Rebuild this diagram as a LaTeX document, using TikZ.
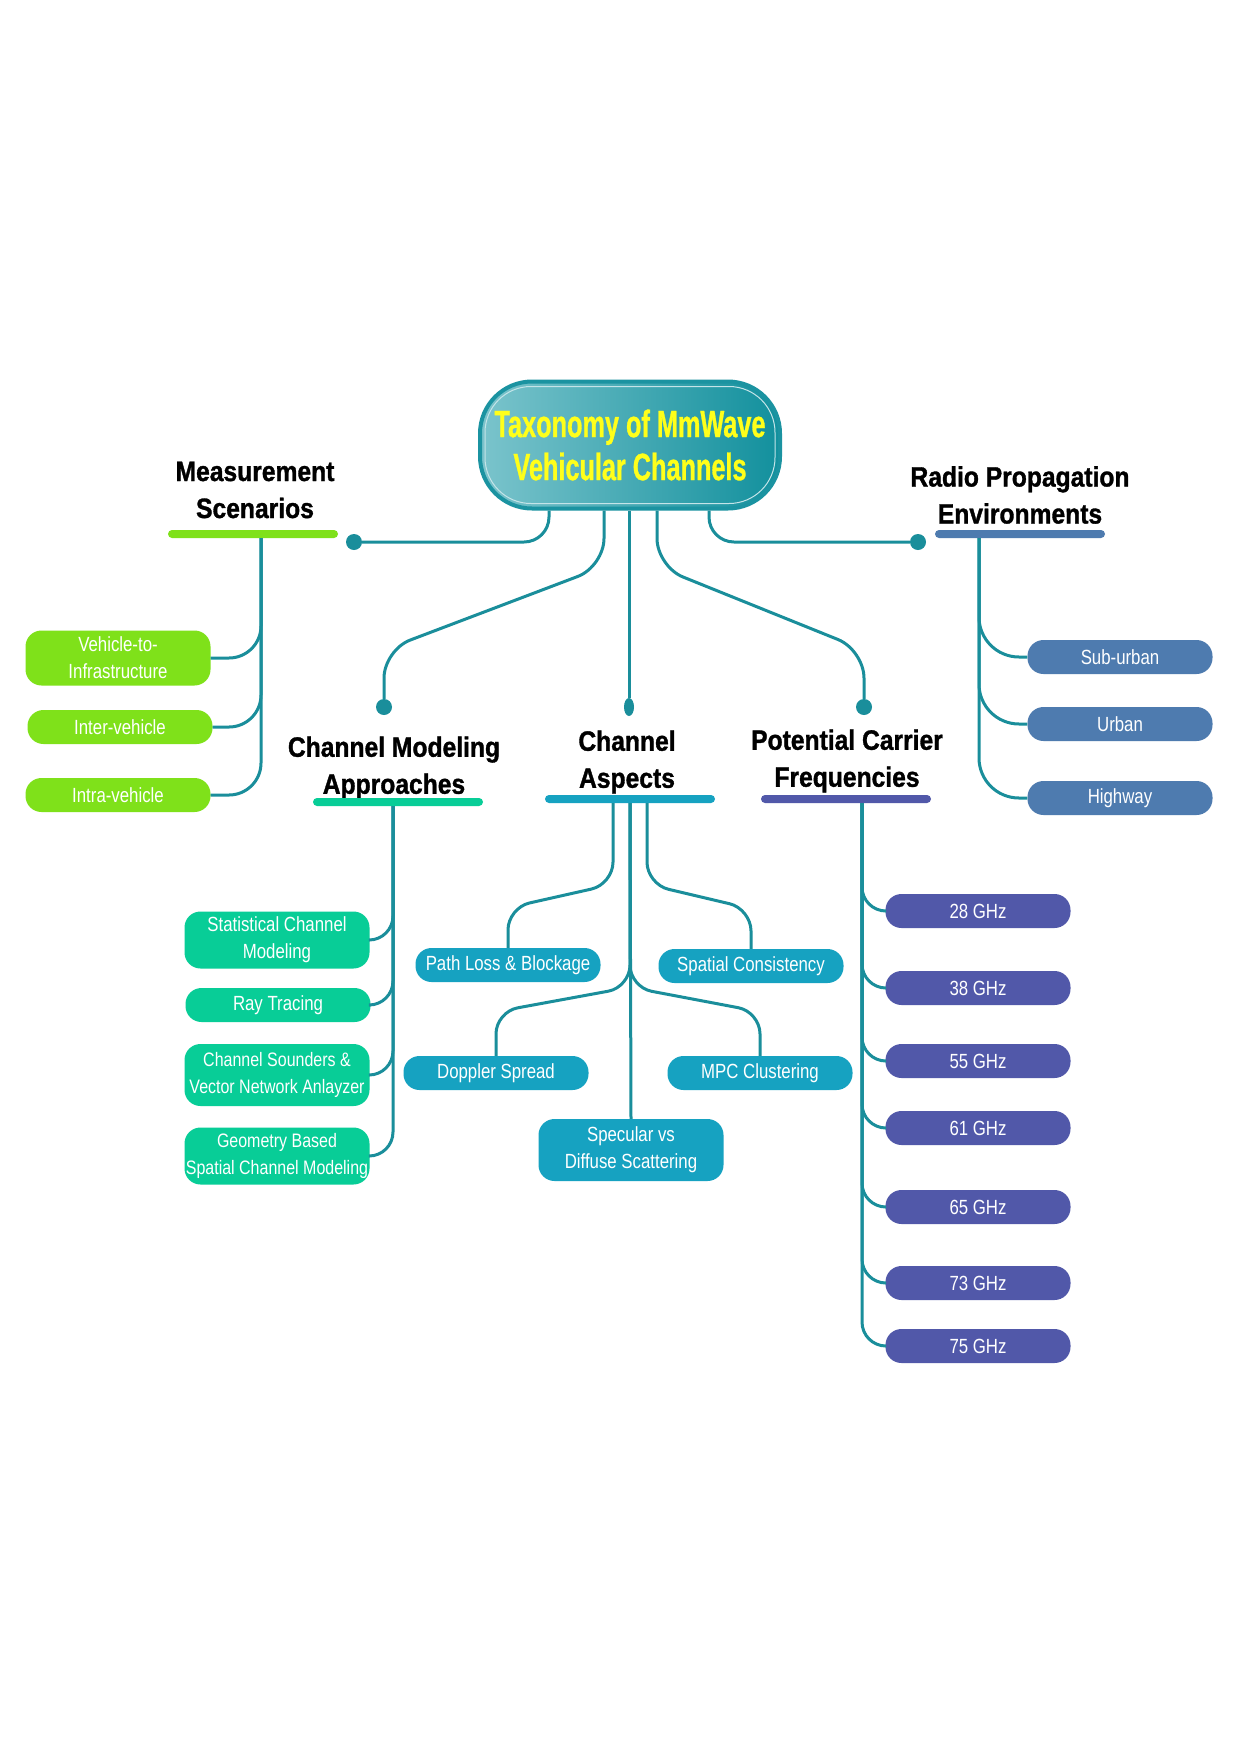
\documentclass[tikz,border=0pt]{standalone}
\usepackage{fontspec}
\setmainfont{Liberation Sans}
\newfontfamily\leaffont[FakeStretch=0.82]{Liberation Sans}
\newfontfamily\headfont[FakeStretch=0.88,BoldFeatures={FakeBold=1.2}]{Liberation Sans}
\newfontfamily\titlefont[FakeStretch=0.665,BoldFeatures={FakeBold=0.8}]{Liberation Sans}
\usepackage{xcolor}
\usepackage{tikz}
\usetikzlibrary{positioning,calc,shapes.geometric}

\definecolor{linkc}{HTML}{1A8E9B}
\definecolor{msc}{HTML}{7FE11A}
\definecolor{rpe}{HTML}{4E7BAF}
\definecolor{cma}{HTML}{08CD97}
\definecolor{cas}{HTML}{16A2C1}
\definecolor{pcf}{HTML}{5158A9}
\definecolor{ttllight}{HTML}{7BC4CC}
\definecolor{ttldark}{HTML}{12909D}
\definecolor{ttledge}{HTML}{1B93A1}
\definecolor{ttltext}{HTML}{FFFF1A}

\begin{document}
\begin{tikzpicture}[x=1pt,y=-1pt,
  link/.style={draw=linkc,line width=3pt},
  leaf/.style={rounded corners=16pt,minimum width=185pt,minimum height=34pt,inner sep=0pt,align=center,text=white,font=\leaffont\fontsize{20.5}{27}\selectfont},
  head/.style={align=center,inner sep=0pt,font=\headfont\bfseries\fontsize{28}{37}\selectfont},
  bar/.style={fill=#1,rounded corners=4pt,minimum width=170pt,minimum height=8pt,inner sep=0pt},
  dot/.style={circle,fill=linkc,minimum size=16pt,inner sep=0pt}]

\fill[white] (0,0) rectangle (1241,1754);
\useasboundingbox (0,0) rectangle (1241,1754);

% root
\node[rounded corners=52pt,minimum width=300pt,minimum height=127pt,left color=ttllight,right color=ttldark,draw=ttledge,line width=4pt,align=center,text=ttltext,font=\titlefont\bfseries\fontsize{38}{43}\selectfont] (title) at (630,445) {Taxonomy of MmWave\\Vehicular Channels};
\draw[white!55!ttllight,line width=1pt,rounded corners=46pt] ([shift={(7pt,-7pt)}]title.north west) rectangle ([shift={(-7pt,7pt)}]title.south east);

% headings and bars
\node[head] (ms) at (255,490) {Measurement\\Scenarios};
\node[head] (rp) at (1020,495) {Radio Propagation\\Environments};
\node[head] (cm) at (394,768) {Channel Modeling\\Approaches};
\node[head] (ca) at (627,762) {Channel\\Aspects};
\node[head] (pc) at (847,761) {Potential Carrier\\Frequencies};
\node[bar=msc] (msbar) at (253,534) {};
\node[bar=rpe] (rpbar) at (1020,534) {};
\node[bar=cma] (cmbar) at (398,802) {};
\node[bar=cas] (cabar) at (630,799) {};
\node[bar=pcf] (pcbar) at (846,799) {};

% dots under the root
\node[dot] (dl) at (354,542) {};
\node[dot] (dr) at (918,542) {};
\node[dot] (dcm) at (384,707) {};
\node[dot] (dpc) at (864,707) {};
\node[ellipse,fill=linkc,minimum width=10pt,minimum height=18pt,inner sep=0pt] (dca) at (629,707) {};
\draw[link,rounded corners=25pt] ([xshift=-81pt]title.south) |- (dl);
\draw[link,rounded corners=25pt] ([xshift=79pt]title.south) |- (dr);
\draw[link,rounded corners=28pt] ([xshift=-26pt]title.south) -- ++(0,56) -- ([yshift=57pt]dcm.center) -- (dcm);
\draw[link,rounded corners=28pt] ([xshift=27pt]title.south) -- ++(0,56) -- ([yshift=57pt]dpc.center) -- (dpc);
\draw[link] ([xshift=-1pt]title.south) -- (dca);

% measurement scenarios
\node[leaf,fill=msc,minimum height=55pt] (v2i) at (118,658) {Vehicle-to-\\Infrastructure};
\node[leaf,fill=msc] (inter) at (120,727) {Inter-vehicle};
\node[leaf,fill=msc] (intra) at (118,795) {Intra-vehicle};
\foreach \n in {v2i,inter,intra}
  \draw[link,rounded corners=32pt] ([xshift=8pt]msbar.south) |- (\n.east);

% radio propagation environments
\node[leaf,fill=rpe] (sub) at (1120,657) {Sub-urban};
\node[leaf,fill=rpe] (urban) at (1120,724) {Urban};
\node[leaf,fill=rpe] (hwy) at (1120,798) {Highway};
\foreach \n in {sub,urban,hwy}
  \draw[link,rounded corners=40pt] ([xshift=-41pt]rpbar.south) |- (\n.west);

% channel modeling approaches
\node[leaf,fill=cma,minimum height=57pt] (stat) at (277,940) {Statistical Channel\\Modeling};
\node[leaf,fill=cma] (ray) at (278,1005) {Ray Tracing};
\node[leaf,fill=cma,minimum height=62pt,font=\leaffont\fontsize{19.5}{27}\selectfont] (sound) at (277,1075) {Channel Sounders \&\\Vector Network Anlayzer};
\node[leaf,fill=cma,minimum height=57pt,font=\leaffont\fontsize{19.5}{27}\selectfont] (geo) at (277,1156) {Geometry Based\\Spatial Channel Modeling};
\foreach \n in {stat,ray,sound,geo}
  \draw[link,rounded corners=24pt] ([xshift=-5pt]cmbar.south) |- (\n.east);

% channel aspects
\node[leaf,fill=cas] (pl) at (508,965) {Path Loss \& Blockage};
\node[leaf,fill=cas] (sc) at (751,966) {Spatial Consistency};
\node[leaf,fill=cas] (dop) at (496,1073) {Doppler Spread};
\node[leaf,fill=cas] (mpc) at (760,1073) {MPC Clustering};
\node[leaf,fill=cas,minimum height=62pt] (spec) at (631,1150) {Specular vs\\Diffuse Scattering};
\draw[link,rounded corners=22pt] ([xshift=-17pt]cabar.south) -- ++(0,81) -- ([yshift=40pt]pl.north) -- (pl.north);
\draw[link,rounded corners=22pt] ([xshift=17pt]cabar.south) -- ++(0,81) -- ([yshift=40pt]sc.north) -- (sc.north);
\draw[link] (cabar.south) -- (spec.north);
\draw[link,rounded corners=22pt] (cabar.south) -- ++(0,184) -- ([yshift=44pt]dop.north) -- (dop.north);
\draw[link,rounded corners=22pt] (cabar.south) -- ++(0,184) -- ([yshift=44pt]mpc.north) -- (mpc.north);

% potential carrier frequencies
\foreach \fq/\yy in {28/911,38/988,55/1061,61/1128,65/1207,73/1283,75/1346}{
  \node[leaf,fill=pcf] (f\fq) at (978,\yy) {\fq\ GHz};
  \draw[link,rounded corners=24pt] ([xshift=16pt]pcbar.south) |- (f\fq.west);
}
\end{tikzpicture}
\end{document}
